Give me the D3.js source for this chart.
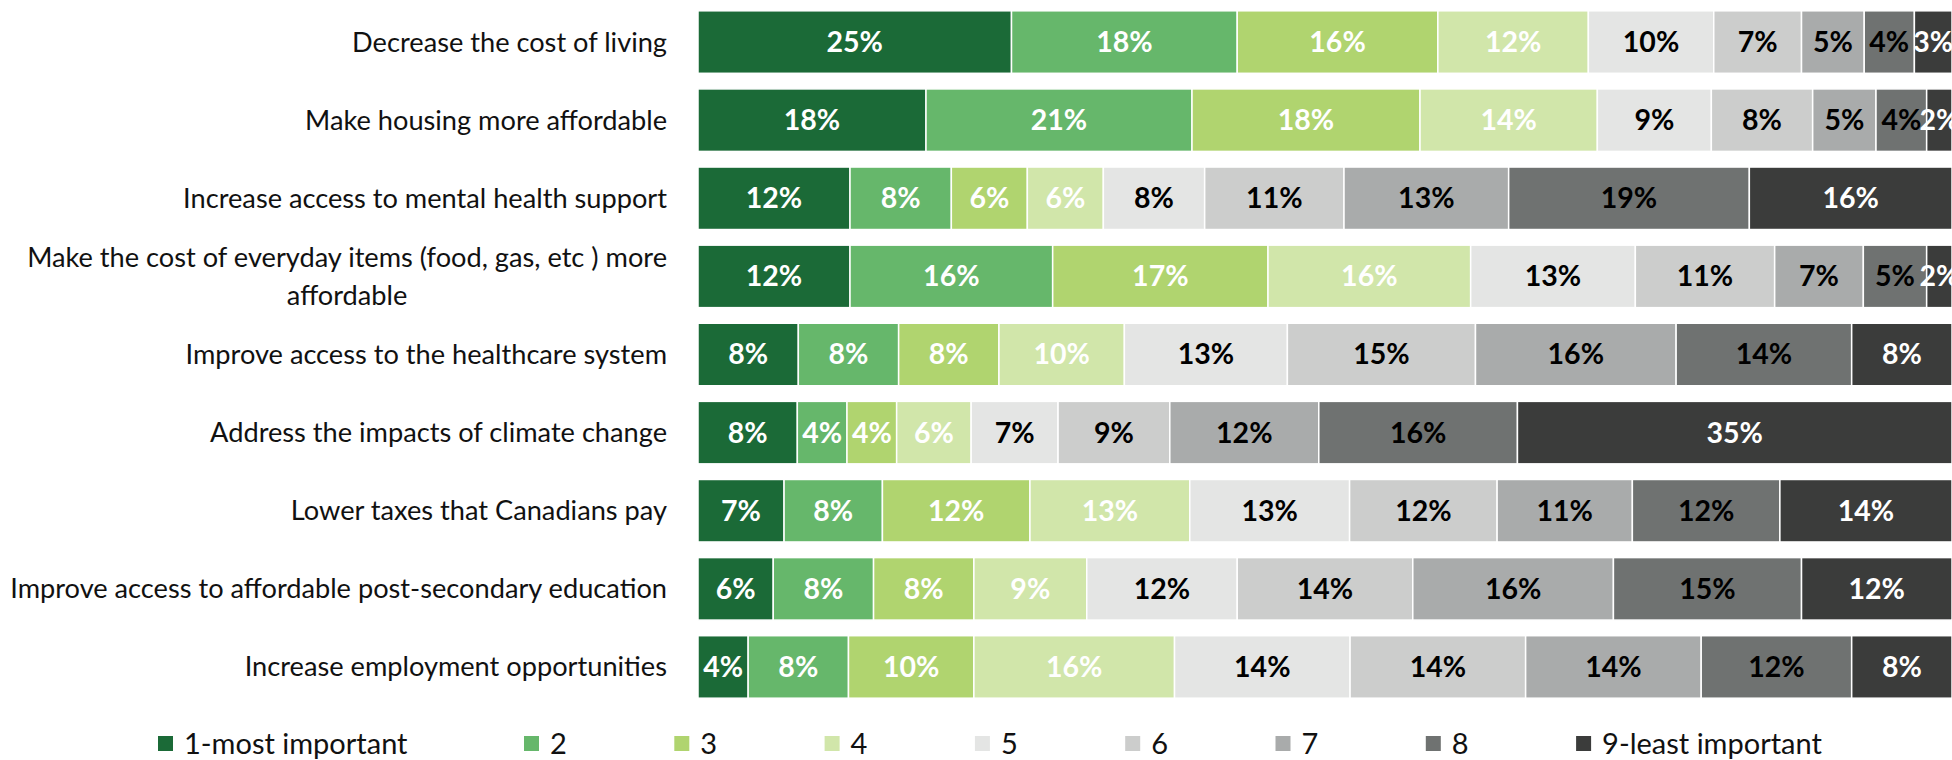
<!DOCTYPE html>
<html lang="en">
<meta charset="utf-8">
<head>
    <script src="https://d3js.org/d3.v7.min.js"></script>
    <style>
        body { margin: 0; background: #fff; }
        svg text { font-family: Lato, "Open Sans", sans-serif; }
    </style>
</head>
<body>
<script>
    // categories top to bottom
    var categories = [
        "Decrease the cost of living",
        "Make housing more affordable",
        "Increase access to mental health support",
        "Make the cost of everyday items (food, gas, etc ) more affordable",
        "Improve access to the healthcare system",
        "Address the impacts of climate change",
        "Lower taxes that Canadians pay",
        "Improve access to affordable post-secondary education",
        "Increase employment opportunities"
    ];
    var ranks = ["1-most important", "2", "3", "4", "5", "6", "7", "8", "9-least important"];

    // % per rank, one value per category
    var rank1 = [25, 18, 12, 12, 8, 8, 7, 6, 4];
    var rank2 = [18, 21, 8, 16, 8, 4, 8, 8, 8];
    var rank3 = [16, 18, 6, 17, 8, 4, 12, 8, 10];
    var rank4 = [12, 14, 6, 16, 10, 6, 13, 9, 16];
    var rank5 = [10, 9, 8, 13, 13, 7, 13, 12, 14];
    var rank6 = [7, 8, 11, 11, 15, 9, 12, 14, 14];
    var rank7 = [5, 5, 13, 7, 16, 12, 11, 16, 14];
    var rank8 = [4, 4, 19, 5, 14, 16, 12, 15, 12];
    var rank9 = [3, 2, 16, 2, 8, 35, 14, 12, 8];

    var colors = ["#1b6a37", "#66b76b", "#b0d46f", "#d1e6aa", "#e4e5e4", "#cccdcc", "#a9abab", "#6f7271", "#3b3c3b"];
    var labelColors = ["#fff", "#fff", "#fff", "#fff", "#000", "#000", "#000", "#000", "#fff"];

    var series = [rank1, rank2, rank3, rank4, rank5, rank6, rank7, rank8, rank9];
    var table = categories.map(function(c, i) {
        var row = {cat: c};
        ranks.forEach(function(r, k) { row[r] = series[k][i]; });
        return row;
    });

    var W = 1952, H = 760;
    var svg = d3.select("body").append("svg")
        .attr("width", W)
        .attr("height", H);

    var x = d3.scaleLinear().domain([0, 1]).range([698, 1952]);
    var y = d3.scaleBand()
        .domain(categories)
        .range([3, 706])
        .paddingInner(0.2)
        .paddingOuter(0.1);

    var stacked = d3.stack().keys(ranks).offset(d3.stackOffsetExpand)(table);

    var layer = svg.selectAll(".layer")
        .data(stacked)
        .enter()
        .append("g")
        .attr("class", "layer");

    layer.selectAll("rect")
        .data(function(d) { return d; })
        .enter()
        .append("rect")
        .attr("x", function(d) { return x(d[0]); })
        .attr("y", function(d) { return y(d.data.cat); })
        .attr("width", function(d) { return x(d[1]) - x(d[0]); })
        .attr("height", y.bandwidth())
        .style("fill", function(d, i, n) { return colors[d3.select(n[i].parentNode).datum().index]; })
        .style("stroke", "#fff")
        .style("stroke-width", 1.5);

    layer.each(function(s) {
        d3.select(this).selectAll("text")
            .data(s)
            .enter()
            .append("text")
            .attr("x", function(d) { return (x(d[0]) + x(d[1])) / 2; })
            .attr("y", function(d) { return y(d.data.cat) + y.bandwidth() / 2; })
            .attr("dy", "0.35em")
            .attr("text-anchor", "middle")
            .style("font-size", "28.5px")
            .style("font-weight", "bold")
            .style("fill", labelColors[s.index])
            .text(function(d) { return d.data[s.key] + "%"; });
    });

    // category labels, wrapped and right aligned
    var labelRight = 667, maxW = 670, lineH = 38;
    categories.forEach(function(c) {
        var t = svg.append("text")
            .style("font-size", "27.2px")
            .style("fill", "#111");
        var words = c.split(" "), lines = [], cur = [];
        var probe = t.append("tspan");
        words.forEach(function(w) {
            probe.text(cur.concat([w]).join(" "));
            if (probe.node().getComputedTextLength() > maxW && cur.length) {
                lines.push(cur.join(" "));
                cur = [w];
            } else {
                cur.push(w);
            }
        });
        lines.push(cur.join(" "));
        probe.remove();
        var widths = lines.map(function(l) {
            var p = t.append("tspan").text(l);
            var w = p.node().getComputedTextLength();
            p.remove();
            return w;
        });
        var bw = d3.max(widths);
        var cy = y(c) + y.bandwidth() / 2 - (lines.length - 1) * lineH / 2;
        t.attr("text-anchor", "middle");
        lines.forEach(function(l, i) {
            t.append("tspan")
                .attr("x", labelRight - bw / 2)
                .attr("y", cy + i * lineH)
                .attr("dy", "0.35em")
                .text(l);
        });
    });

    // legend
    var legendX = [158].concat(d3.range(1, 9).map(function(i) { return 524 + (i - 1) * 150.3; }));
    var legend = svg.selectAll(".legend")
        .data(ranks)
        .enter()
        .append("g")
        .attr("class", "legend")
        .attr("transform", function(d, i) { return "translate(" + legendX[i] + ",744)"; });

    legend.append("rect")
        .attr("x", 0)
        .attr("y", -8)
        .attr("width", 15)
        .attr("height", 15)
        .style("fill", function(d, i) { return colors[i]; });

    legend.append("text")
        .attr("x", 26)
        .attr("y", 0)
        .attr("dy", "0.35em")
        .style("font-size", "29px")
        .style("fill", "#111")
        .text(function(d) { return d; });
</script>
</body>
</html>
